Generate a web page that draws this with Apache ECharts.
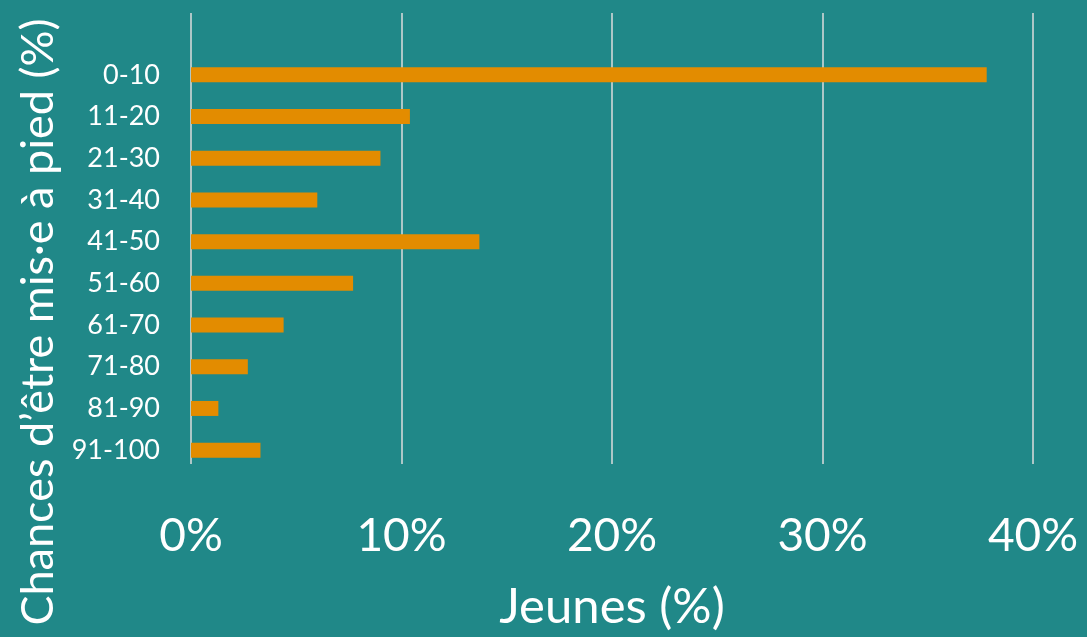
<!DOCTYPE html>
<html>
<head>
    <meta charset="utf-8">
    <title></title>
    <style>
        html,body{ margin:0; padding:0; background:#208888; }
    </style>
</head>
<body>
<script src="https://cdn.jsdelivr.net/npm/echarts@6/dist/echarts.min.js"></script>
<div id="main" style="width: 1087px;height:637px;"></div>
<script type="text/javascript">
    var myChart = echarts.init(document.getElementById('main'));

    // tranches de chances (%)
    var categories = ['0-10', '11-20', '21-30', '31-40', '41-50', '51-60', '61-70', '71-80', '81-90', '91-100'];
    // part des jeunes (%)
    var values = [37.8, 10.4, 9.0, 6.0, 13.7, 7.7, 4.4, 2.7, 1.3, 3.3];
    var xTicks = [0, 10, 20, 30, 40];

    var font = 'Lato, "Open Sans", sans-serif';

    myChart.setOption({
        backgroundColor: '#208888',
        animation: false,
        grid: [
            // barres
            { left: 191, right: 54, top: 54, bottom: 166 },
            // lignes de grille (plus hautes que les barres)
            { left: 191, right: 54, top: 13, bottom: 166 }
        ],
        xAxis: [{
            gridIndex: 0,
            type: 'value',
            min: xTicks[0],
            max: xTicks[xTicks.length - 1],
            interval: 10,
            axisLine: { show: false },
            axisTick: { show: false },
            axisLabel: { show: false },
            splitLine: { show: false }
        }, {
            gridIndex: 1,
            type: 'value',
            min: xTicks[0],
            max: xTicks[xTicks.length - 1],
            interval: 10,
            name: 'Jeunes (%)',
            nameLocation: 'middle',
            nameGap: 119,
            nameTextStyle: { color: '#fff', fontSize: 49, fontFamily: font },
            axisLine: { show: false },
            axisTick: { show: false },
            axisLabel: {
                color: '#fff', fontSize: 46, fontFamily: font, margin: 49,
                formatter: '{value}%'
            },
            splitLine: { show: true, lineStyle: { color: '#dcdcdc', width: 1.5 } }
        }],
        yAxis: [{
            gridIndex: 0,
            type: 'category',
            inverse: true,
            data: categories,
            axisLine: { show: false },
            axisTick: { show: false },
            axisLabel: { color: '#fff', fontSize: 27, fontFamily: font, margin: 31 }
        }, {
            gridIndex: 1,
            type: 'value',
            show: false
        }],
        graphic: [{
            type: 'text',
            rotation: Math.PI / 2,
            x: 38,
            y: 322,
            style: {
                text: 'Chances d\u2019être mis·e à pied (%)',
                fill: '#fff',
                fontSize: 45,
                fontFamily: font,
                textAlign: 'center',
                textVerticalAlign: 'middle'
            }
        }],
        series: [{
            type: 'bar',
            xAxisIndex: 0,
            yAxisIndex: 0,
            data: values,
            barWidth: 15,
            itemStyle: { color: '#e38c00' }
        }]
    });
</script>
</body>
</html>
